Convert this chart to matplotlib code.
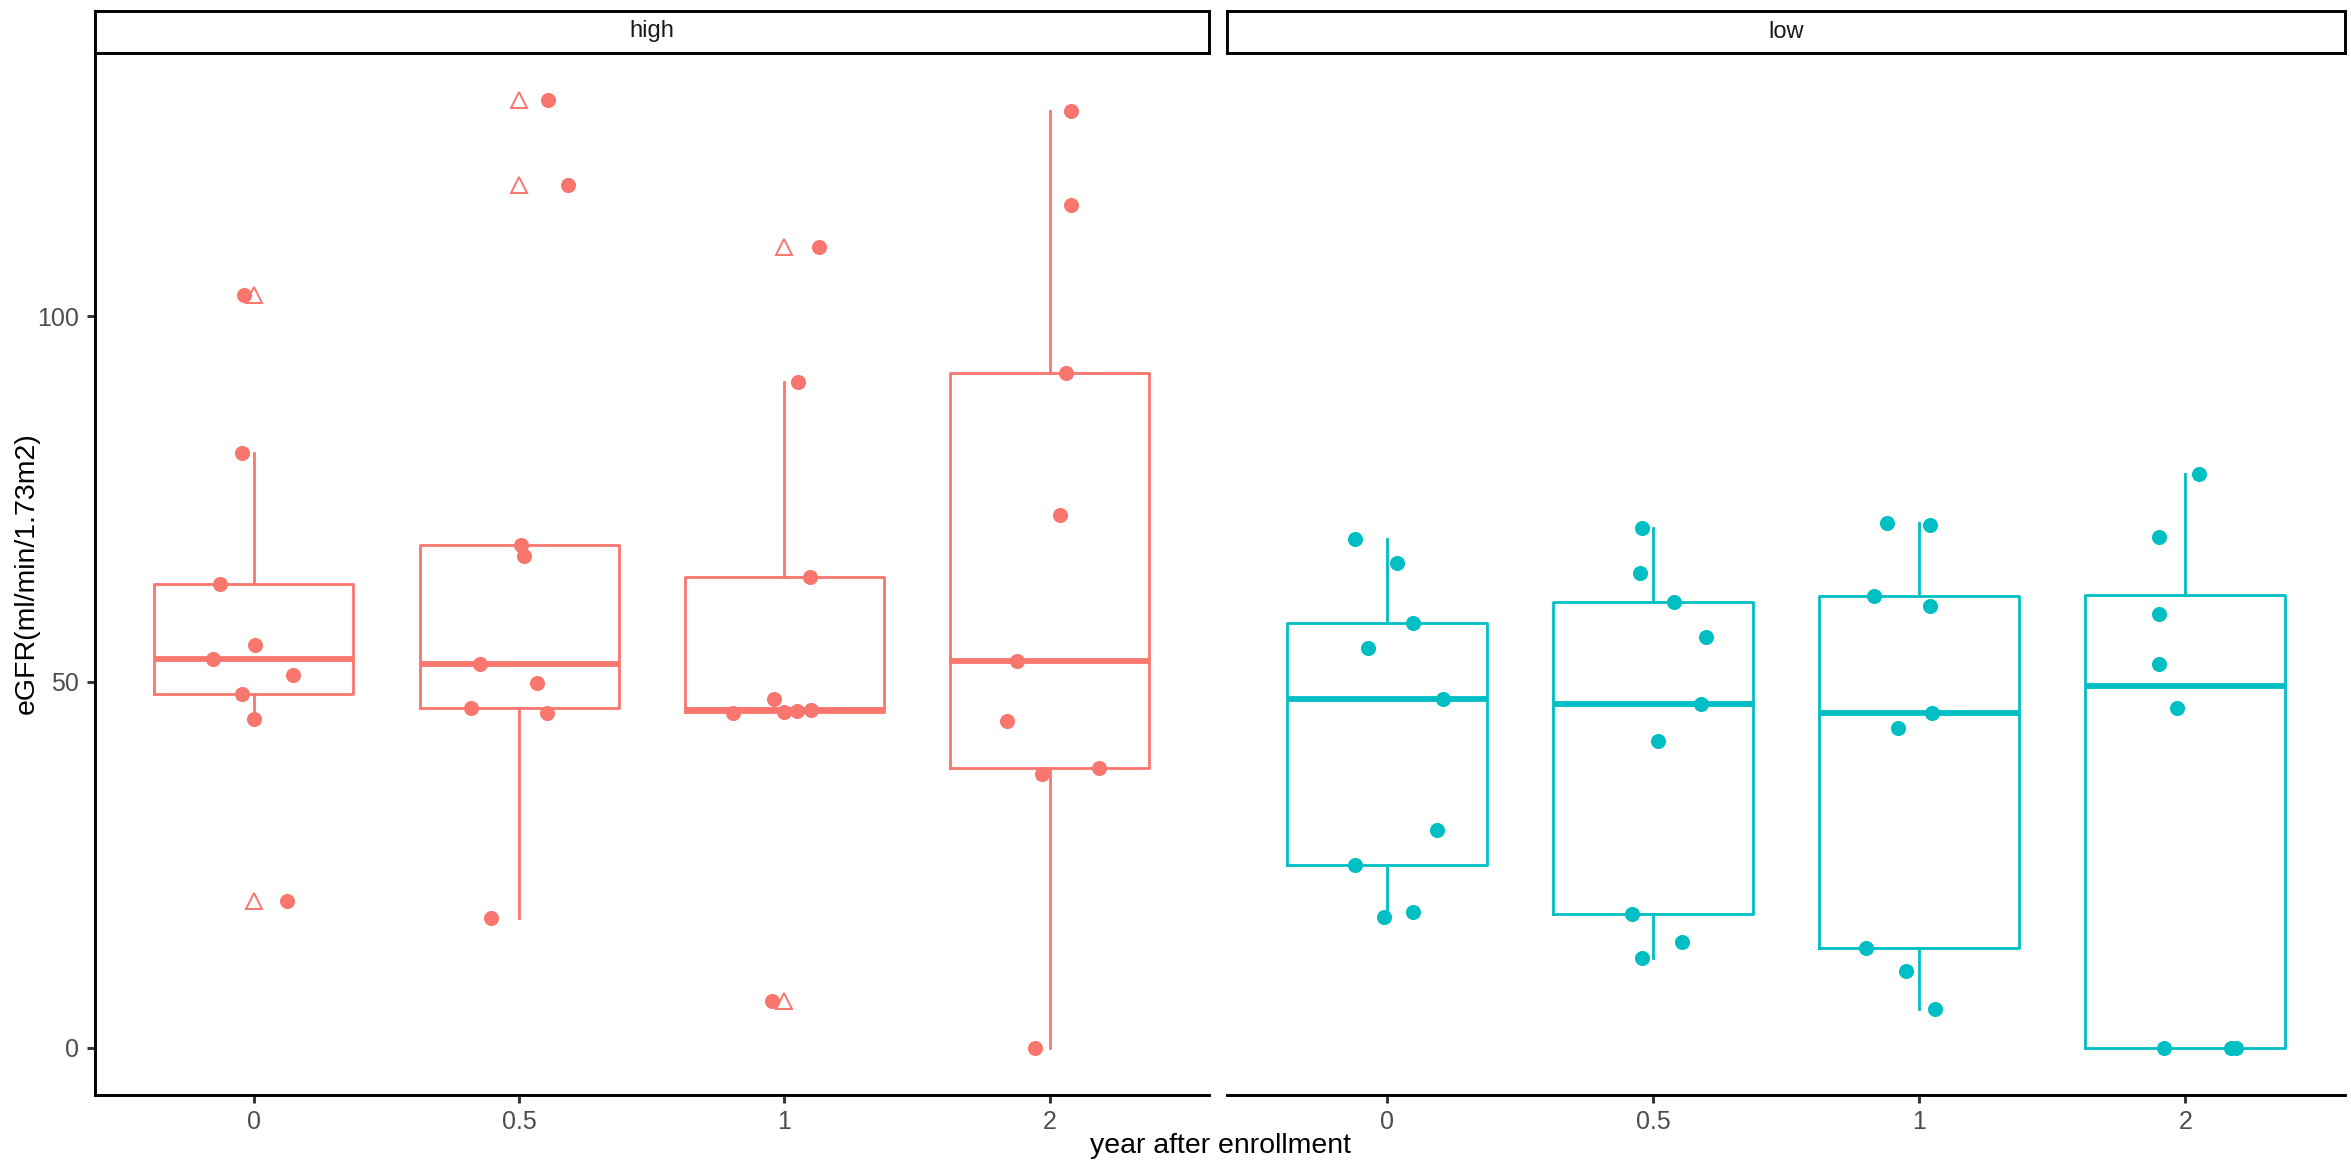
import matplotlib
matplotlib.use("Agg")
import matplotlib.pyplot as plt
import numpy as np

plt.rcParams['font.family'] = ['Liberation Sans', 'DejaVu Sans']

# ---------------- data ----------------
years = ["0", "0.5", "1", "2"]
groups = ["high", "low"]
colors = {"high": "#F8766D", "low": "#00BFC4"}

high_y0 = [102.9, 81.3, 63.4, 55.0, 53.1, 50.9, 48.3, 44.9, 20.1]
high_y05 = [129.6, 118.0, 68.7, 67.2, 52.4, 49.8, 46.5, 45.8, 17.7]
high_y1 = [109.5, 91.0, 64.4, 47.7, 46.2, 46.0, 45.9, 45.8, 6.4]
high_y2 = [128.1, 115.2, 92.2, 72.9, 52.9, 44.6, 38.2, 37.4, 0.0]
low_y0 = [69.5, 66.3, 58.1, 54.7, 47.7, 29.8, 25.0, 18.5, 17.9]
low_y05 = [71.0, 64.9, 61.0, 56.1, 47.0, 41.9, 18.3, 14.4, 12.3]
low_y1 = [71.7, 71.5, 61.8, 60.4, 45.8, 43.7, 13.6, 10.5, 5.3]
low_y2 = [78.4, 69.8, 59.3, 52.4, 46.4, 0.0, 0.0, 0.0]

# horizontal jitter of each point (category units)
high_j0 = [-0.036, -0.044, -0.126, 0.006, -0.153, 0.148, -0.046, 0.0, 0.124]
high_j05 = [0.108, 0.183, 0.007, 0.017, -0.148, 0.067, -0.182, 0.105, -0.107]
high_j1 = [0.13, 0.051, 0.098, -0.04, 0.10, 0.047, 0.0, -0.193, -0.045]
high_j2 = [0.079, 0.079, 0.062, 0.04, -0.124, -0.163, 0.185, -0.028, -0.056]
low_j0 = [-0.12, 0.04, 0.10, -0.07, 0.21, 0.19, -0.12, 0.10, -0.01]
low_j05 = [-0.04, -0.05, 0.08, 0.20, 0.18, 0.02, -0.08, 0.11, -0.04]
low_j1 = [-0.12, 0.04, -0.17, 0.04, 0.05, -0.08, -0.20, -0.05, 0.06]
low_j2 = [0.05, -0.10, -0.10, -0.10, -0.03, -0.08, 0.17, 0.19]

values = {"high": [high_y0, high_y05, high_y1, high_y2],
          "low": [low_y0, low_y05, low_y1, low_y2]}
jitters = {"high": [high_j0, high_j05, high_j1, high_j2],
           "low": [low_j0, low_j05, low_j1, low_j2]}

y_ticks = [0, 50, 100]
x_title = "year after enrollment"
y_title = "eGFR(ml/min/1.73m2)"

# ---------------- figure ----------------
W, H = 2351, 1167
fig = plt.figure(figsize=(W / 100, H / 100), dpi=100)

panel_px = {"high": (94.5, 1209), "low": (1227, 2345)}
top_px, bottom_px = 52.5, 1095
strip_top_px = 10.5

all_vals = [v for g in groups for lst in values[g] for v in lst]
lo, hi = min(all_vals), max(all_vals)
pad = 0.05 * (hi - lo)

axis_lw = 2.1
box_lw = 2.0
tick_col = "#4D4D4D"

for gi, g in enumerate(groups):
    x0, x1 = panel_px[g]
    ax = fig.add_axes([x0 / W, 1 - bottom_px / H, (x1 - x0) / W, (bottom_px - top_px) / H])
    c = colors[g]
    pos = np.arange(1, len(years) + 1)
    ax.boxplot(values[g], positions=pos, widths=0.75, whis=1.5, showcaps=False,
               boxprops=dict(color=c, linewidth=box_lw),
               whiskerprops=dict(color=c, linewidth=box_lw),
               medianprops=dict(color=c, linewidth=box_lw * 2.1, solid_capstyle='butt'),
               flierprops=dict(marker='^', markerfacecolor='none', markeredgecolor=c,
                               markersize=11, markeredgewidth=1.4, linestyle='none'),
               zorder=2)
    for i, (vals, jit) in enumerate(zip(values[g], jitters[g])):
        xs = pos[i] + np.array(jit)
        ax.scatter(xs, vals, s=118, color=c, linewidths=0, zorder=3)
    ax.set_xlim(0.4, len(years) + 0.6)
    ax.set_ylim(lo - pad, hi + pad)
    ax.set_xticks(pos)
    ax.set_xticklabels(years)
    ax.set_yticks(y_ticks)
    ax.set_yticklabels([str(t) for t in y_ticks])
    ax.tick_params(axis='both', labelsize=18, colors="#333333", labelcolor=tick_col,
                   length=6, width=axis_lw, pad=5)
    for s in ["top", "right"]:
        ax.spines[s].set_visible(False)
    for s in ["bottom", "left"]:
        ax.spines[s].set_linewidth(axis_lw)
        ax.spines[s].set_color("black")
    if gi > 0:
        ax.spines["left"].set_visible(False)
        ax.tick_params(axis='y', left=False, labelleft=False)
    ax.set_facecolor("white")

    # strip
    sax = fig.add_axes([x0 / W, 1 - top_px / H, (x1 - x0) / W, (top_px - strip_top_px) / H])
    sax.set_xticks([])
    sax.set_yticks([])
    for s in sax.spines.values():
        s.set_linewidth(axis_lw)
        s.set_color("black")
    sax.text(0.5, 0.5, g, ha='center', va='center', fontsize=17, color="#1A1A1A",
             transform=sax.transAxes)

fig.text(1220 / W, 1 - 1146 / H, x_title, ha='center', va='center', fontsize=20.5)
fig.text(27 / W, 1 - 573 / H, y_title, ha='center', va='center', fontsize=20.5, rotation=90)

fig.savefig("out.png", dpi=100, facecolor="white")
